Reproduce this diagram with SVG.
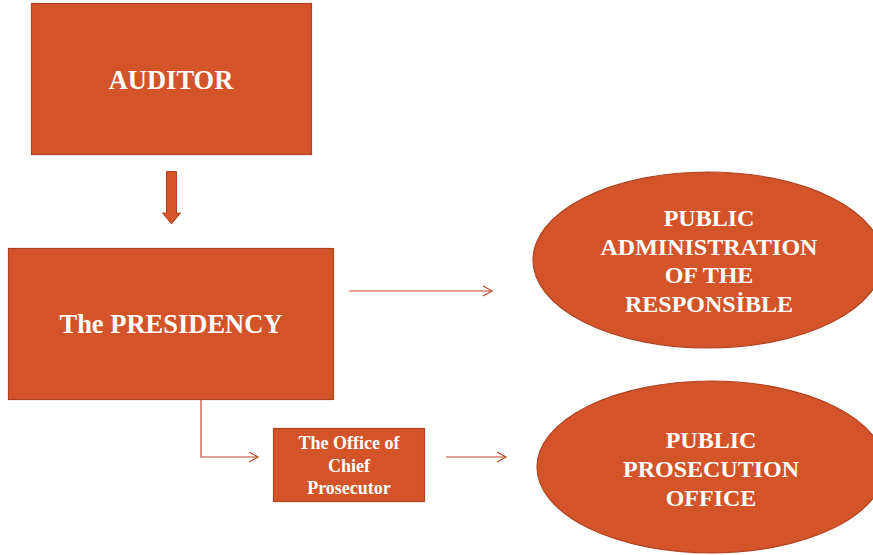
<svg xmlns="http://www.w3.org/2000/svg" width="873" height="555" viewBox="0 0 873 555">
<style>
.n{fill:#D35428;stroke:#B1411F;stroke-width:1.2}
.t{fill:#ffffff;font-family:"Liberation Serif","Times New Roman",serif;font-weight:bold;text-anchor:middle}
.c{fill:none;stroke:#C0482A;stroke-width:1.2}
</style>
<defs>
<marker id="ah" markerWidth="12" markerHeight="12" refX="10" refY="6" orient="auto" markerUnits="userSpaceOnUse">
<path d="M1,1 L10,6 L1,11" fill="none" stroke="#C0482A" stroke-width="1.2"/>
</marker>
</defs>
<rect width="873" height="555" fill="#ffffff"/>
<g id="auditor">
<rect class="n" x="31.5" y="3.5" width="280" height="151"/>
<text class="t" x="171" y="89" font-size="26.5">AUDITOR</text>
</g>
<g id="presidency">
<rect class="n" x="8.5" y="248.5" width="325" height="151"/>
<text class="t" x="171" y="333" font-size="26.5">The PRESIDENCY</text>
</g>
<g id="office">
<rect class="n" x="273.5" y="428.5" width="151" height="73"/>
<text class="t" font-size="18"><tspan x="349" y="449">The Office of</tspan><tspan x="349" y="472">Chief</tspan><tspan x="349" y="494">Prosecutor</tspan></text>
</g>
<g id="public-admin">
<ellipse class="n" cx="708" cy="260" rx="175" ry="88"/>
<text class="t" font-size="24"><tspan x="709" y="226">PUBLIC</tspan><tspan x="709" y="255">ADMINISTRATION</tspan><tspan x="709" y="283">OF THE</tspan><tspan x="709" y="312">RESPONSİBLE</tspan></text>
</g>
<g id="public-prosecution">
<ellipse class="n" cx="711" cy="467" rx="174" ry="86"/>
<text class="t" font-size="24"><tspan x="711" y="448">PUBLIC</tspan><tspan x="711" y="477">PROSECUTION</tspan><tspan x="711" y="506">OFFICE</tspan></text>
</g>
<g id="connectors">
<path d="M166.5,171.5 H176.5 V213 H180.5 L171.5,224 L162.5,213 H166.5 Z" fill="#D35428" stroke="#B1411F" stroke-width="1"/>
<path class="c" d="M349,291 H492" marker-end="url(#ah)"/>
<path class="c" d="M201,400 V457 H258" marker-end="url(#ah)"/>
<path class="c" d="M446,457 H506" marker-end="url(#ah)"/>
</g>
</svg>
